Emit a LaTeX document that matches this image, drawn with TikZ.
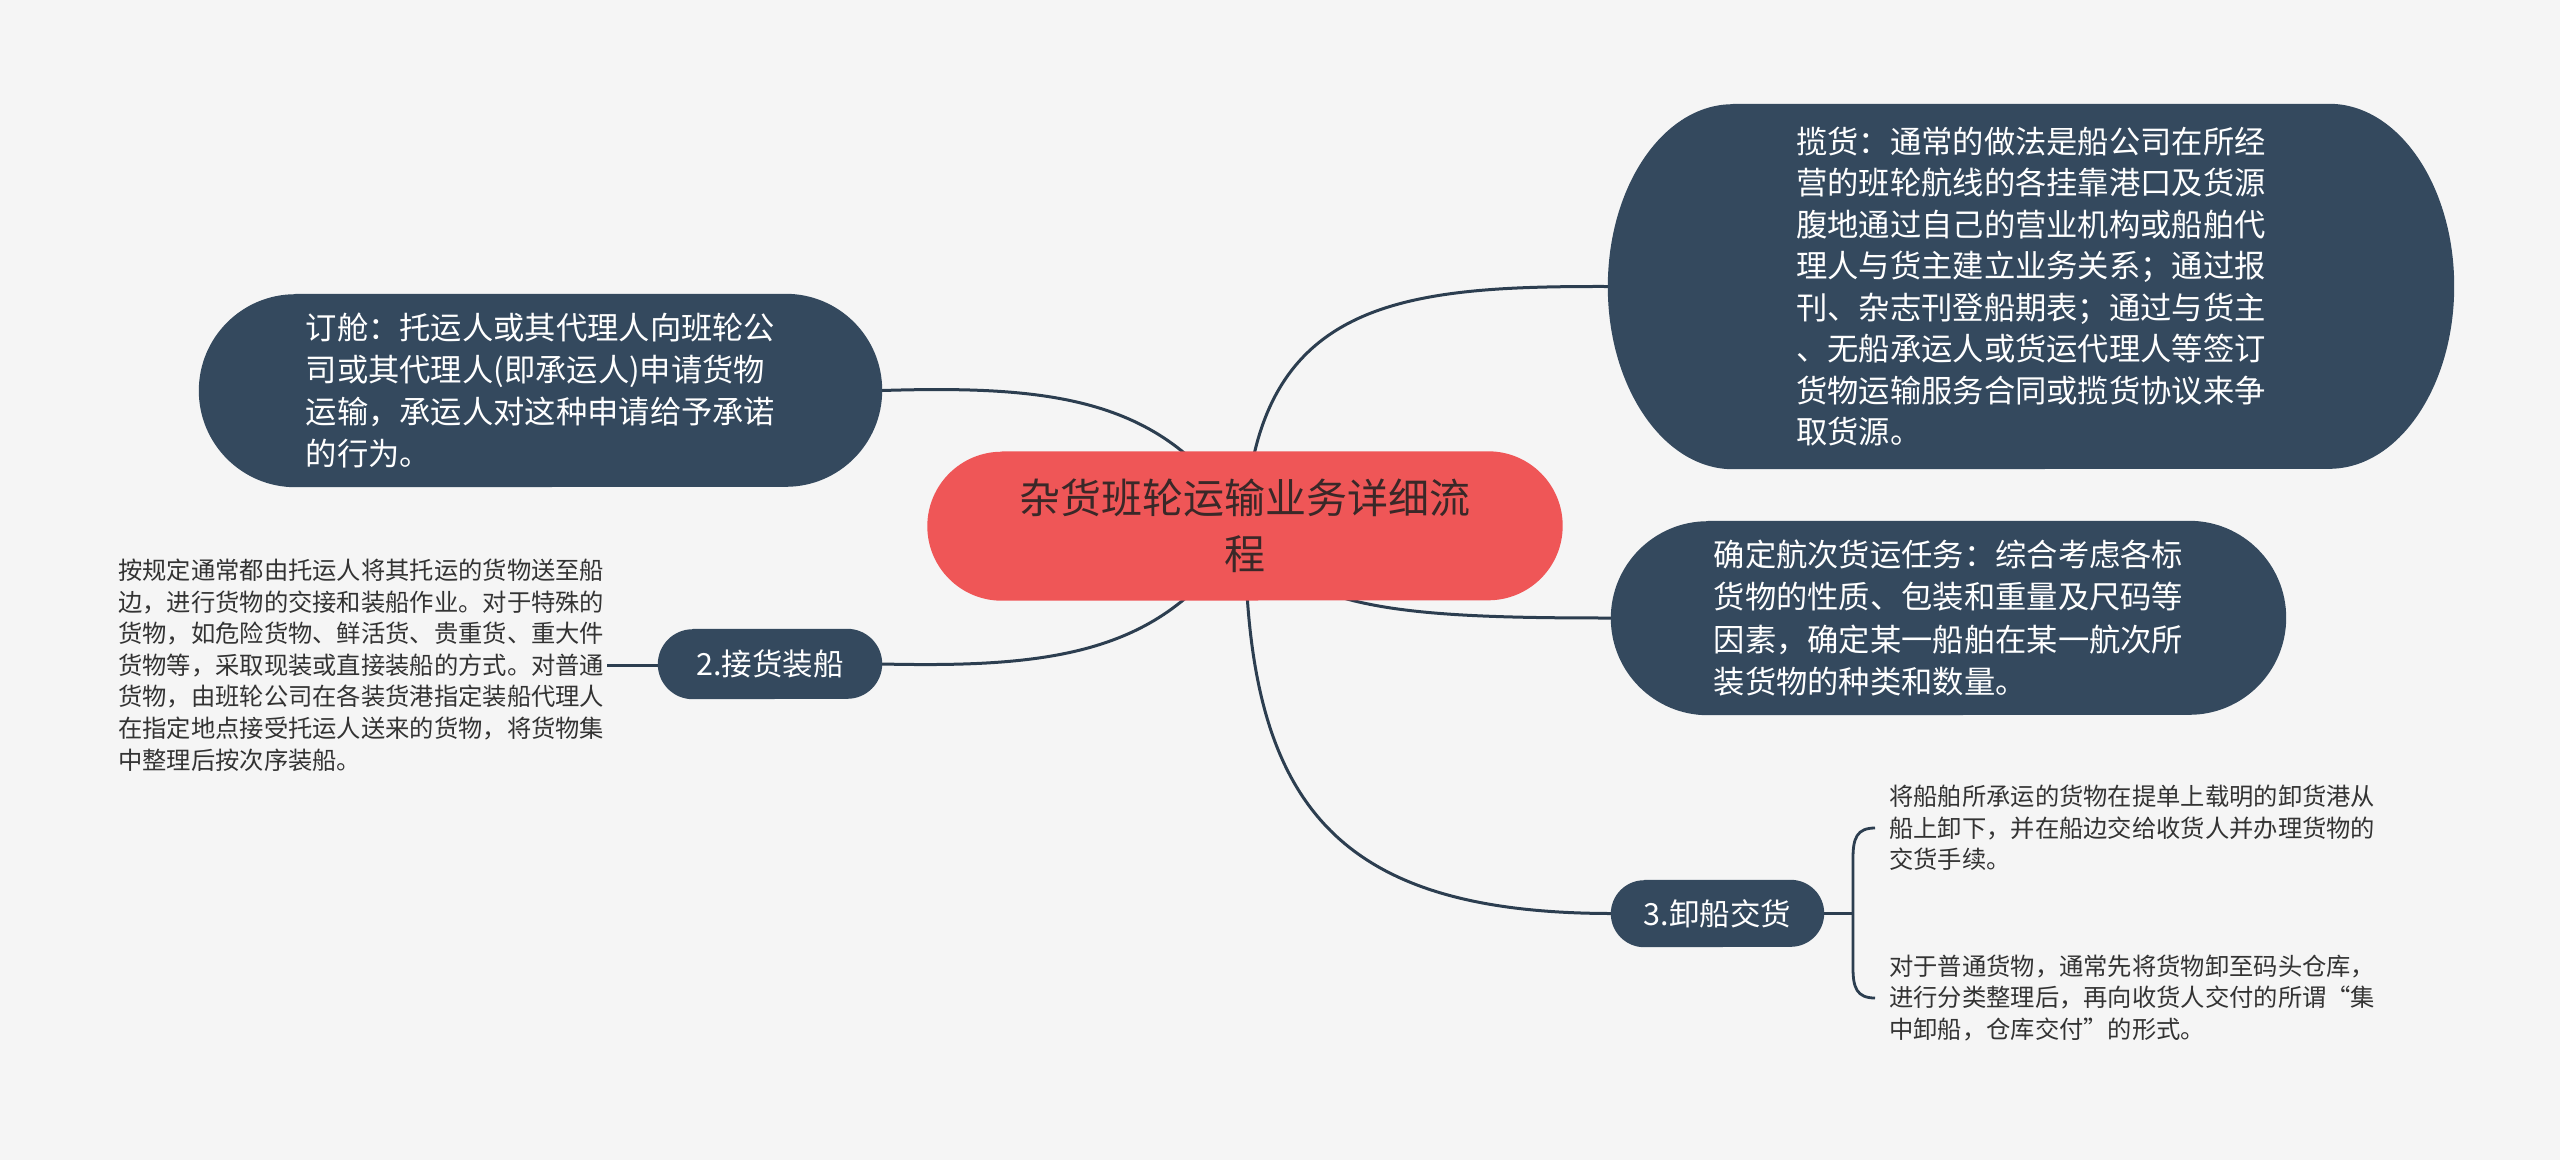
\documentclass[tikz,border=0pt]{standalone}
\usepackage{fontspec}
\newfontfamily\cjk{Noto Sans CJK SC}
\usetikzlibrary{calc}
\definecolor{bgc}{HTML}{F5F5F5}
\definecolor{navy}{HTML}{34495E}
\definecolor{linec}{HTML}{2C3E50}
\definecolor{coral}{HTML}{EF5657}
\definecolor{ctext}{HTML}{3A2828}
\definecolor{gtext}{HTML}{333333}
\pgfdeclarelayer{bgl}
\pgfdeclarelayer{lines}
\pgfdeclarelayer{boxes}
\pgfsetlayers{bgl,lines,boxes,main}
\newcommand\pillfill[4]{%
  \fill[#4] ($(#1.north west)+(#2,0)$) -- ($(#1.north east)+(-#2,0)$)
    arc[start angle=90, end angle=-90, x radius=#2pt, y radius=#3pt]
    -- ($(#1.south west)+(#2,0)$)
    arc[start angle=270, end angle=90, x radius=#2pt, y radius=#3pt] -- cycle;}
\tikzset{
  boxtext/.style={inner sep=0pt, align=left, text=white,
    font=\cjk\fontsize{31.3}{42.2}\selectfont},
  smalltext/.style={inner sep=0pt, align=left, text=gtext, anchor=west,
    font=\cjk\fontsize{24.3}{31.6}\selectfont},
  conn/.style={draw=linec, line width=3pt},
  brace/.style={draw=linec, line width=2.8pt}
}
\begin{document}
\begin{tikzpicture}[x=1pt,y=1pt]
\begin{pgfonlayer}{bgl}
\fill[bgc] (0,0) rectangle (2560,-1160);
\end{pgfonlayer}
\useasboundingbox (0,0) rectangle (2560,-1160);

% nodes
\node[inner sep=0pt, align=center, text=ctext, font=\cjk\fontsize{41}{56}\selectfont,
  minimum width=635pt, minimum height=149pt] (root) at (1245,-526)
  {杂货班轮运输业务详细流\\程};
\node[boxtext, minimum width=683pt, minimum height=193pt] (dingcang) at (540.5,-390.5)
  {订舱：托运人或其代理人向班轮公\\司或其代理人(即承运人)申请货物\\运输，承运人对这种申请给予承诺\\的行为。};
\node[boxtext, font=\cjk\fontsize{31.3}{41.5}\selectfont, minimum width=846pt, minimum height=365pt] (lanhuo) at (2031,-286.5)
  {揽货：通常的做法是船公司在所经\\营的班轮航线的各挂靠港口及货源\\腹地通过自己的营业机构或船舶代\\理人与货主建立业务关系；通过报\\刊、杂志刊登船期表；通过与货主\\、无船承运人或货运代理人等签订\\货物运输服务合同或揽货协议来争\\取货源。};
\node[boxtext, minimum width=675pt, minimum height=194pt] (queding) at (1948.5,-618)
  {确定航次货运任务：综合考虑各标\\货物的性质、包装和重量及尺码等\\因素，确定某一船舶在某一航次所\\装货物的种类和数量。};
\node[boxtext, font=\cjk\fontsize{30.5}{36}\selectfont, minimum width=224pt, minimum height=70pt] (jiehuo) at (770,-664)
  {2.接货装船};
\node[boxtext, font=\cjk\fontsize{30.5}{36}\selectfont, minimum width=213pt, minimum height=67pt] (xiechuan) at (1717.5,-913.5)
  {3.卸船交货};
\node[smalltext] (lefttxt) at (118,-665)
  {按规定通常都由托运人将其托运的货物送至船\\边，进行货物的交接和装船作业。对于特殊的\\货物，如危险货物、鲜活货、贵重货、重大件\\货物等，采取现装或直接装船的方式。对普通\\货物，由班轮公司在各装货港指定装船代理人\\在指定地点接受托运人送来的货物，将货物集\\中整理后按次序装船。};
\node[smalltext] (t1) at (1889,-828)
  {将船舶所承运的货物在提单上载明的卸货港从\\船上卸下，并在船边交给收货人并办理货物的\\交货手续。};
\node[smalltext] (t2) at (1889,-998)
  {对于普通货物，通常先将货物卸至码头仓库，\\进行分类整理后，再向收货人交付的所谓“集\\中卸船，仓库交付”的形式。};

% box shapes
\begin{pgfonlayer}{boxes}
\pillfill{root}{74.5}{74.5}{coral}
\pillfill{dingcang}{96.5}{96.5}{navy}
\pillfill{lanhuo}{125}{182.5}{navy}
\pillfill{queding}{97}{97}{navy}
\pillfill{jiehuo}{35}{35}{navy}
\pillfill{xiechuan}{33.5}{33.5}{navy}
\end{pgfonlayer}

% connectors
\begin{pgfonlayer}{lines}
\draw[conn] (root.center) .. controls (1255,-300) and (1400,-286) .. (lanhuo.west);
\draw[conn] (dingcang.east) .. controls (1060,-385) and (1170,-400) .. (root.center);
\draw[conn] (root.center) .. controls (1290,-610) and (1400,-618) .. (queding.west);
\draw[conn] (jiehuo.east) .. controls (1060,-668) and (1170,-652) .. (root.center);
\draw[conn] (root.center) .. controls (1245,-800) and (1330,-913) .. (xiechuan.west);
\draw[conn] ($(lefttxt.east)+(3,0)$) -- (lefttxt.east -| jiehuo.west);
\coordinate (bt) at ($(t1.west)+(-14,0)$);
\coordinate (bb) at ($(t2.west)+(-14,0)$);
\coordinate (bv) at ($(bt)+(-22,0)$);
\draw[brace] (xiechuan.east) -- (xiechuan.east -| bv);
\draw[brace] (bt) .. controls ($(bt)+(-18,0)$) and ($(bt)+(-22,-10)$) .. ($(bt)+(-22,-30)$)
  -- ($(bb)+(-22,30)$) .. controls ($(bb)+(-22,10)$) and ($(bb)+(-18,0)$) .. (bb);
\end{pgfonlayer}
\end{tikzpicture}
\end{document}
